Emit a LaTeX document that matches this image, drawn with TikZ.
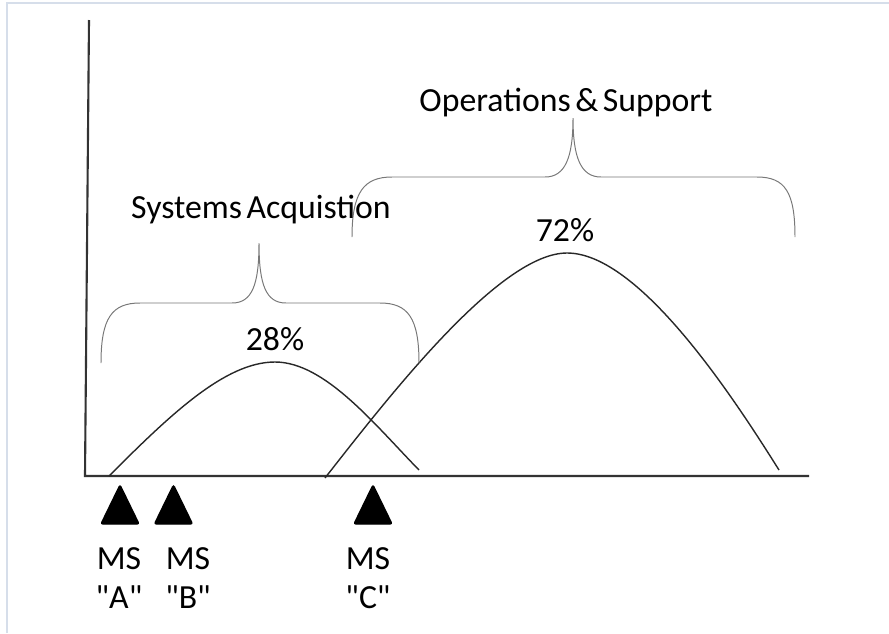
\documentclass[tikz,border=0pt]{standalone}
\usepackage{fontspec}
\setmainfont{Carlito}[WordSpace=0.6]
\definecolor{framecol}{RGB}{214,222,234}
\definecolor{curvecol}{RGB}{40,40,40}
\definecolor{bracecol}{RGB}{120,120,120}
\tikzset{
	axisline/.style={line width=1.5pt, color=black!80},
	costcurve/.style={line width=1pt, color=curvecol},
	phasebrace/.style={line width=0.7pt, color=bracecol},
	milestone/.style={fill=black, draw=black, line width=1pt, rounded corners=1.5pt},
	bigtext/.style={font=\fontsize{24}{27.5}\selectfont, inner sep=0pt},
	mslabel/.style={bigtext, align=center}
}
\begin{document}
\begin{tikzpicture}[x=0.025cm, y=-0.025cm]
	\useasboundingbox (0,0) rectangle (889,633);
	\draw [line width=2pt, color=framecol] (7,633) -- (7,3) -- (889,3);
	
	\coordinate (O) at (85, 476);
	\coordinate (Ytop) at (89, 20);
	\coordinate (Xend) at (809, 476);
	
	\draw [axisline] (Ytop) -- (O) -- (Xend);
	
	% acquisition curve
	\coordinate (acqstart) at (109, 476);
	\coordinate (acqpeak) at (275, 362);
	\coordinate (acqend) at (419, 470);
	\draw [costcurve] (acqstart) .. controls (170,415) and (225,362) .. (acqpeak)
		.. controls (325,362) and (375,425) .. (acqend);
	
	% operations curve
	\coordinate (opsstart) at (325, 478);
	\coordinate (opspeak) at (567, 253);
	\coordinate (opsend) at (779, 470);
	\draw [costcurve] (opsstart) .. controls (390,395) and (500,253) .. (opspeak)
		.. controls (640,253) and (735,400) .. (opsend);
	
	% braces
	\coordinate (acqtip) at (259, 243);
	\draw [phasebrace] (101,363) .. controls (101,318) and (112,303) .. (140,303) -- (232,303)
		.. controls (252,303) and (259,285) .. (acqtip)
		.. controls (259,285) and (266,303) .. (286,303) -- (380,303)
		.. controls (408,303) and (419,318) .. (419,363);
	\coordinate (opstip) at (573, 118);
	\draw [phasebrace] (352,237) .. controls (352,192) and (364,177) .. (392,177) -- (545,177)
		.. controls (565,177) and (573,158) .. (opstip)
		.. controls (573,158) and (581,177) .. (601,177) -- (757,177)
		.. controls (785,177) and (795,192) .. (795,237);
	
	\node [bigtext] (opslabel) at (566, 103) {Operations \& Support};
	\node [bigtext] (acqlabel) at (261, 210) {Systems Acquistion};
	\node [bigtext] (opspct) at (565, 230) {72\%};
	\node [bigtext] (acqpct) at (275, 339) {28\%};
	
	% milestones
	\foreach \ms/\mx/\lx in {A/120/119, B/173.5/188, C/373/368} {
		\draw [milestone] (\mx-19, 524) -- (\mx, 485) -- (\mx+19, 524) -- cycle;
		\node [mslabel] (ms\ms) at (\lx, 578) {MS\\\textquotedbl\ms\textquotedbl};
	}
\end{tikzpicture}
\end{document}
